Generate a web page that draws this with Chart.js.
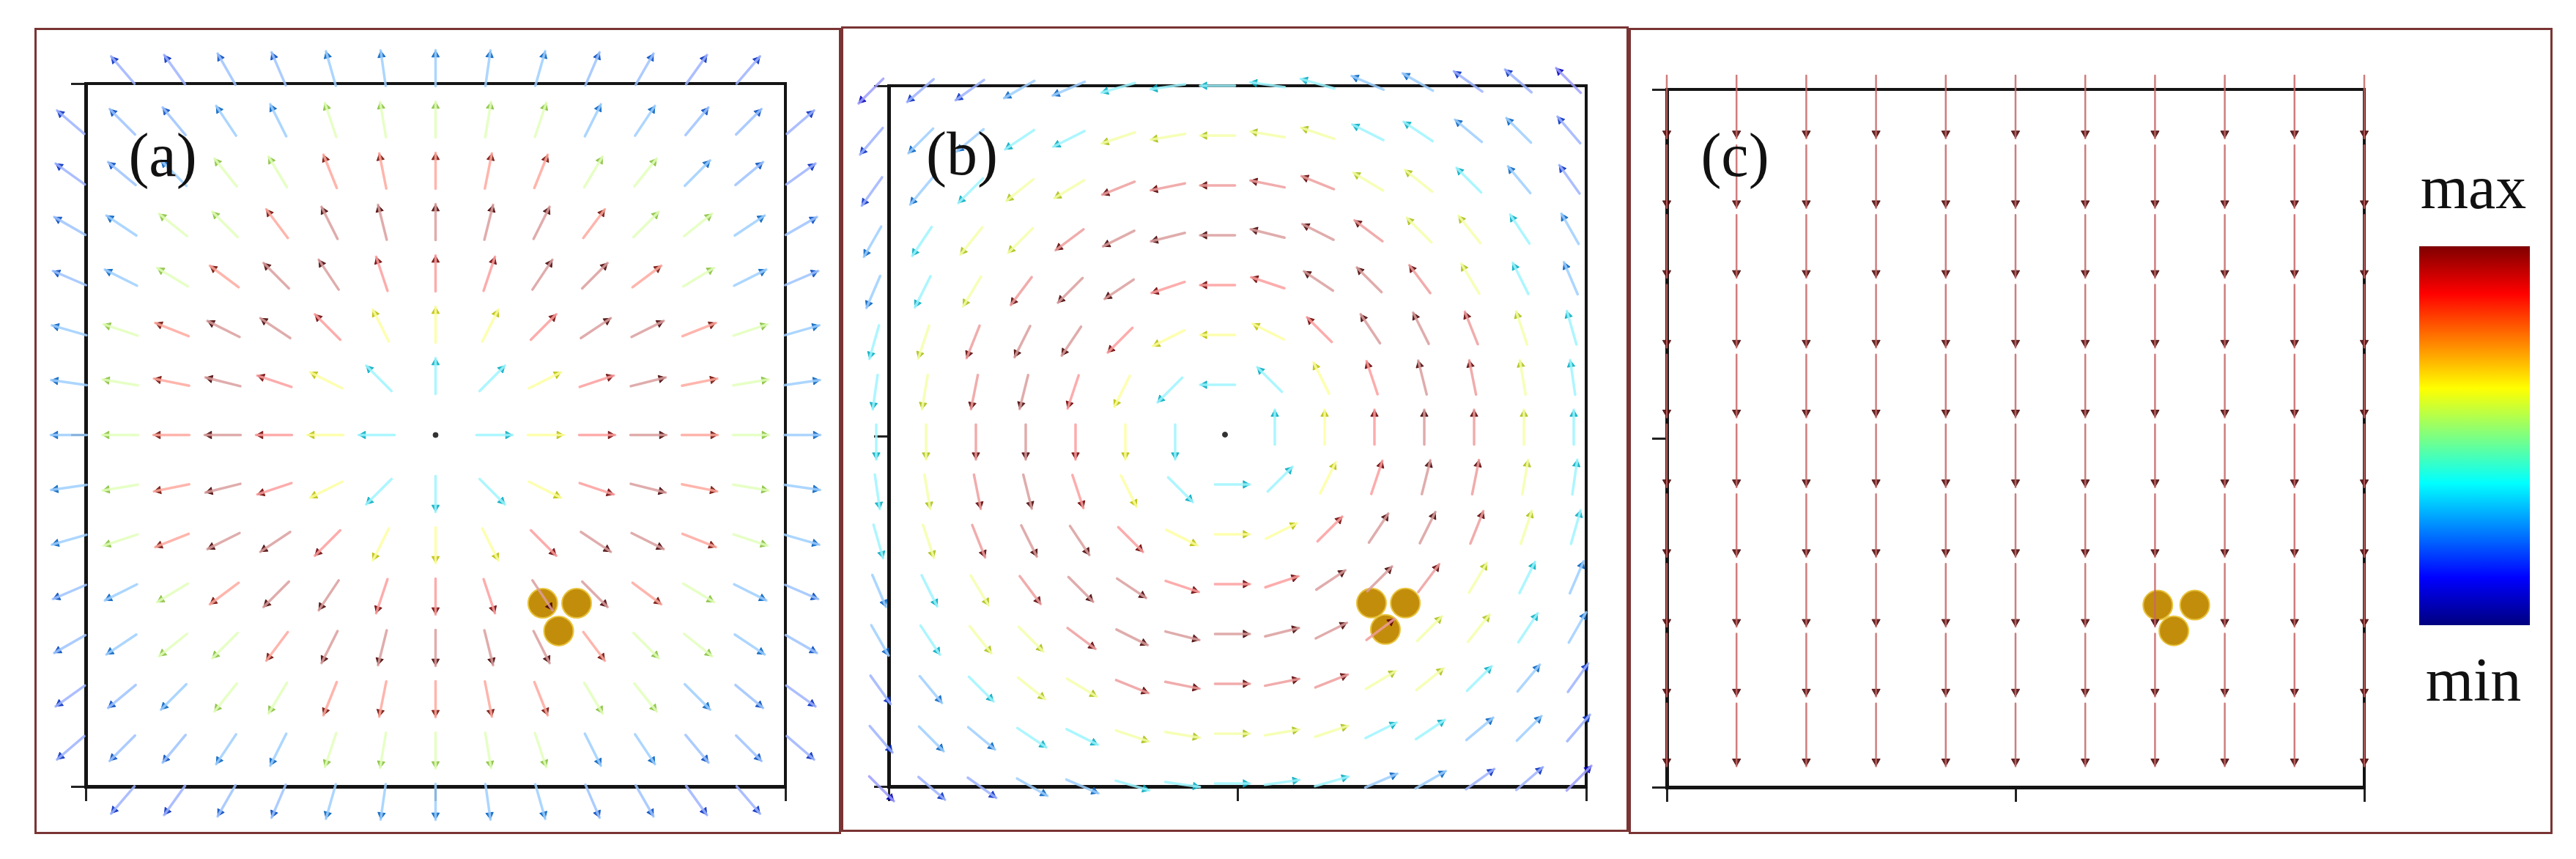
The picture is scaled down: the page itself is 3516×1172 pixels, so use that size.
<!DOCTYPE html>
<html lang="en">
<head>
<meta charset="UTF-8">
<title>Vector field panels</title>
<script src="https://cdn.jsdelivr.net/npm/chart.js"></script>
<style>
  body { margin: 0; background: #fff; }
  #page { position: relative; width: 3516px; height: 1172px; overflow: hidden;
    font-family: "Liberation Serif", "DejaVu Serif", serif; color: #111; }
  .frame { position: absolute; border: 3px solid #7a3434; box-sizing: border-box; }
  canvas { position: absolute; }
  .tag { position: absolute; font-size: 84px; line-height: 1; transform: translate(-50%, 0); white-space: nowrap; }
  #cbar { position: absolute; left: 3302px; top: 336px; width: 151px; height: 517px;
    background: linear-gradient(to bottom, #7f0000 0%, #ff0000 12.5%, #ffff00 37.5%, #00ffff 62.5%, #0000ff 87.5%, #00007f 100%); }
</style>
</head>
<body>
<div id="page">
  <div class="frame" style="left:47px;top:38px;width:1101px;height:1100px"></div>
  <div class="frame" style="left:1148px;top:36px;width:1075px;height:1099px"></div>
  <div class="frame" style="left:2223px;top:38px;width:1261px;height:1100px"></div>

  <canvas id="chartA" width="1101" height="1100" style="left:47px;top:38px"></canvas>
  <canvas id="chartB" width="1075" height="1099" style="left:1148px;top:36px"></canvas>
  <canvas id="chartC" width="1261" height="1100" style="left:2223px;top:38px"></canvas>

  <div class="tag" style="left:222px;top:170px">(a)</div>
  <div class="tag" style="left:1313px;top:168px">(b)</div>
  <div class="tag" style="left:2368px;top:170px">(c)</div>

  <div id="cbar"></div>
  <div class="tag" style="left:3376px;top:214px;font-size:84px">max</div>
  <div class="tag" style="left:3376px;top:886px;font-size:84px">min</div>
</div>

<script>
  // ---- data (grid units) ----
  // (a) source field: nodes on a square grid, colour level by ring radius 0..10
  const gridA = [-7, -6, -5, -4, -3, -2, -1, 0, 1, 2, 3, 4, 5, 6, 7];
  const ringLevelA = [0.0, 0.35, 0.62, 0.88, 0.97, 0.85, 0.55, 0.25, 0.22, 0.18, 0.14];
  // (b) vortex field (counter-clockwise), same kind of grid
  const gridB = [-7, -6, -5, -4, -3, -2, -1, 0, 1, 2, 3, 4, 5, 6, 7];
  const ringLevelB = [0.0, 0.35, 0.62, 0.88, 0.97, 0.92, 0.6, 0.35, 0.25, 0.18, 0.12];
  // (c) uniform downward field
  const colsC = [0, 1, 2, 3, 4, 5, 6, 7, 8, 9, 10];
  const rowsC = [10.2, 9.2, 8.2, 7.2, 6.2, 5.2, 4.2, 3.2, 2.2, 1.2];
  const levelC = 0.97;
  // the three particles in each panel
  const beadsAX = [2.09, 2.75, 2.40];
  const beadsAY = [-3.28, -3.28, -3.82];
  const beadsBX = [2.94, 3.62, 3.22];
  const beadsBY = [-3.38, -3.38, -3.91];
  const beadsCX = [7.04, 7.57, 7.27];
  const beadsCY = [2.61, 2.61, 2.24];

  // jet colour map
  function jet(v) {
    const c = t => Math.max(0, Math.min(1, t));
    return [c(1.5 - Math.abs(4 * v - 3)), c(1.5 - Math.abs(4 * v - 2)), c(1.5 - Math.abs(4 * v - 1))];
  }
  // k > 0 mixes towards white, k < 0 towards black
  function tone(c, k, a) {
    const m = v => k >= 0 ? v + (1 - v) * k : v * (1 + k);
    return "rgba(" + c.map(v => Math.round(255 * m(v))).join(",") + "," + a + ")";
  }

  // turn a list of arrows into a shaft (line) dataset and a head (scatter) dataset
  function fieldDatasets(arrows, o) {
    const shaft = [], shaftCol = [];
    const heads = [], rot = [], col = [], style = [], rad = [];
    arrows.forEach(a => {
      if (a.v === null) {
        heads.push({x: a.x, y: a.y}); rot.push(0); col.push("#333");
        style.push("circle"); rad.push(3.5);
        return;
      }
      const c = jet(a.v);
      const hx = a.x + o.fwd * a.ux, hy = a.y + o.fwd * a.uy;
      shaft.push({x: a.x - o.back * a.ux, y: a.y - o.back * a.uy}, {x: hx, y: hy}, {x: null, y: null});
      shaftCol.push(tone(c, o.tint, 0.85));
      heads.push({x: hx - o.headBack * a.ux, y: hy - o.headBack * a.uy});
      rot.push(Math.atan2(a.ux, a.uy) * 180 / Math.PI);
      // strong (red) arrows get near-black heads, weak ones keep a softer head
      col.push(tone(c, a.v > 0.8 ? -0.55 : -0.25, 0.85));
      style.push("triangle");
      rad.push(o.headR);
    });
    return [
      {
        type: "line", data: shaft, clip: false, spanGaps: false, pointRadius: 0,
        borderWidth: o.lw, borderColor: "#ccc", borderCapStyle: "round",
        segment: { borderColor: ctx => shaftCol[Math.floor(ctx.p0DataIndex / 3)] }
      },
      {
        type: "scatter", data: heads, clip: false, drawAll: true,
        pointStyle: style, pointRotation: rot, pointRadius: rad,
        pointBackgroundColor: col, pointBorderColor: col, pointBorderWidth: 1
      }
    ];
  }

  function beads(xs, ys) {
    return {
      type: "scatter", data: xs.map((x, i) => ({x: x, y: ys[i]})),
      pointRadius: 20, pointBackgroundColor: "#c38d0c", pointBorderColor: "#e8c33c", pointBorderWidth: 2
    };
  }

  // heads sit partly outside the plot area, so draw every point element ourselves
  const drawAllHeads = {
    id: "drawAllHeads",
    beforeDatasetDraw(chart, args) {
      if (!chart.data.datasets[args.index].drawAll) return;
      args.meta.data.forEach(p => p.draw(chart.ctx));
      return false;
    }
  };

  function axis(pos, min, max, marks) {
    return {
      type: "linear", position: pos, min: min, max: max,
      afterBuildTicks: s => { s.ticks = [min, (min + max) / 2, max].map(v => ({value: v})); },
      afterFit: s => { if (s.isHorizontal()) s.height = 0; else s.width = 0; },
      ticks: { display: false },
      grid: { display: marks, drawOnChartArea: false, drawTicks: true, tickLength: 20, color: "#222", lineWidth: 3 },
      border: { display: true, color: "#141414", width: (pos === "left" || pos === "bottom") ? 5 : 4 }
    };
  }

  function panel(id, pad, xr, yr, datasets) {
    return new Chart(document.getElementById(id), {
      type: "scatter",
      data: { datasets: datasets },
      options: {
        responsive: false, animation: false, events: [], devicePixelRatio: 1,
        layout: { padding: pad },
        plugins: { legend: { display: false }, tooltip: { enabled: false } },
        scales: {
          x: axis("bottom", xr[0], xr[1], true),
          y: axis("left", yr[0], yr[1], true),
          x2: axis("top", xr[0], xr[1], false),
          y2: axis("right", yr[0], yr[1], false)
        }
      },
      plugins: [drawAllHeads]
    });
  }

  // (a) radial arrows
  const arrowsA = [];
  gridA.forEach(gy => gridA.forEach(gx => {
    if (Math.abs(gx) === 7 && Math.abs(gy) === 7) return;
    const r = Math.hypot(gx, gy);
    arrowsA.push(r === 0 ? {x: gx, y: gy, v: null}
      : {x: gx, y: gy, ux: gx / r, uy: gy / r, v: ringLevelA[Math.round(r)]});
  }));

  // (b) tangential arrows
  const arrowsB = [];
  gridB.forEach(gy => gridB.forEach(gx => {
    const r = Math.hypot(gx, gy);
    arrowsB.push(r === 0 ? {x: gx, y: gy, v: null}
      : {x: gx, y: gy, ux: -gy / r, uy: gx / r, v: ringLevelB[Math.min(10, Math.round(r))]});
  }));

  // (c) straight down
  const arrowsC = [];
  rowsC.forEach(y => colsC.forEach(x => {
    arrowsC.push({x: x, y: y, ux: 0, uy: -1, v: levelC});
  }));

  const fieldOpt = {back: 0.2, fwd: 0.5, headBack: 0.09, headR: 6, lw: 3.5, tint: 0.62};

  panel("chartA", {left: 70, right: 76, top: 76, bottom: 65}, [-6.82, 6.82], [-6.85, 6.85],
    fieldDatasets(arrowsA, fieldOpt).concat([beads(beadsAX, beadsAY)]));

  panel("chartB", {left: 65, right: 58, top: 81, bottom: 62}, [-6.75, 7.25], [-7.06, 7.0],
    fieldDatasets(arrowsB, fieldOpt).concat([beads(beadsBX, beadsBY)]));

  panel("chartC", {left: 52, right: 257, top: 84, bottom: 64}, [0, 10], [0, 10],
    fieldDatasets(arrowsC, {back: 0, fwd: 0.9, headBack: 0.07, headR: 6.5, lw: 2.5, tint: 0.4})
      .concat([beads(beadsCX, beadsCY)]));
</script>
</body>
</html>
